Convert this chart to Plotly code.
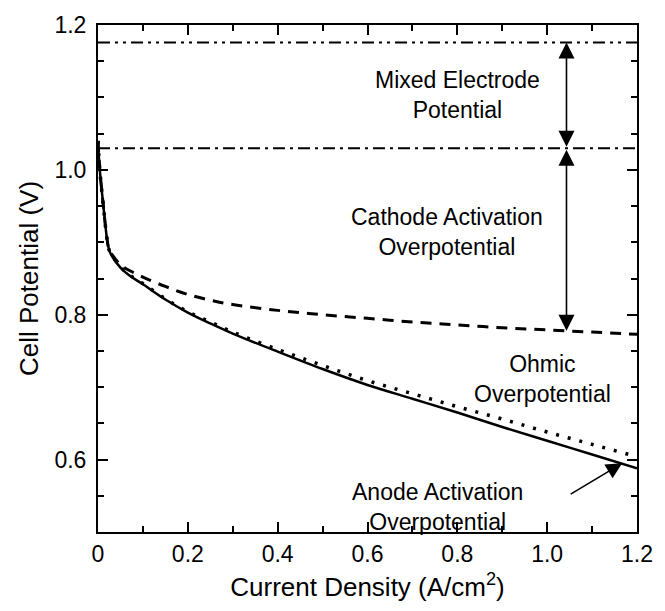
import plotly.graph_objects as go

# Current density (A/cm^2)
x_vals = [0, 0.004, 0.012, 0.02, 0.025, 0.03, 0.05, 0.07, 0.1, 0.15, 0.2, 0.25, 0.3,
          0.4, 0.5, 0.6, 0.7, 0.8, 0.9, 1.0, 1.1, 1.2]
# Full model (solid)
v_total = [1.04, 1.0, 0.95, 0.905, 0.889, 0.882, 0.865, 0.854, 0.842, 0.821, 0.803, 0.788, 0.774,
           0.749, 0.725, 0.703, 0.684, 0.665, 0.645, 0.626, 0.607, 0.588]
# Without anode activation (dotted)
v_no_anode = [1.04, 1.0, 0.95, 0.905, 0.889, 0.883, 0.866, 0.855, 0.843, 0.822, 0.804, 0.790, 0.776,
              0.752, 0.730, 0.709, 0.691, 0.673, 0.656, 0.638, 0.621, 0.604]
# Without ohmic (dashed)
v_no_ohmic = [1.04, 1.0, 0.95, 0.905, 0.889, 0.884, 0.869, 0.861, 0.852, 0.839, 0.828, 0.820, 0.814,
              0.806, 0.800, 0.795, 0.790, 0.786, 0.782, 0.779, 0.776, 0.773]

mixed_potential = 1.176
cathode_ref = 1.03

x_tickvals = [0, 0.2, 0.4, 0.6, 0.8, 1.0, 1.2]
x_ticktext = ["0", "0.2", "0.4", "0.6", "0.8", "1.0", "1.2"]
y_tickvals = [0.6, 0.8, 1.0, 1.2]
y_ticktext = ["0.6", "0.8", "1.0", "1.2"]

FONT = "Liberation Sans, Arial, sans-serif"

fig = go.Figure()
fig.add_trace(go.Scatter(x=[0, 1.2], y=[mixed_potential] * 2, mode="lines",
                         line=dict(color="black", width=2, dash="12px,5px,3px,5px,3px,5px")))
fig.add_trace(go.Scatter(x=[0, 1.2], y=[cathode_ref] * 2, mode="lines",
                         line=dict(color="black", width=2, dash="12px,5px,3px,5px")))
fig.add_trace(go.Scatter(x=x_vals, y=v_no_ohmic, mode="lines", line_shape="spline",
                         line=dict(color="black", width=3, dash="11px,8px")))
fig.add_trace(go.Scatter(x=x_vals, y=v_no_anode, mode="lines", line_shape="spline",
                         line=dict(color="black", width=3.5, dash="3px,9px")))
fig.add_trace(go.Scatter(x=x_vals, y=v_total, mode="lines", line_shape="spline",
                         line=dict(color="black", width=2.5)))

annots = [
    dict(x=0.80, y=1.104, text="Mixed Electrode<br>Potential"),
    dict(x=0.777, y=0.914, text="Cathode Activation<br>Overpotential"),
    dict(x=0.99, y=0.711, text="Ohmic<br>Overpotential"),
    dict(x=0.755, y=0.535, text="Anode Activation<br>Overpotential"),
]
for a in annots:
    fig.add_annotation(x=a["x"], y=a["y"], text=a["text"], showarrow=False,
                       font=dict(family=FONT, size=23, color="black"), xref="x", yref="y")

arrows = [
    (1.043, mixed_potential, 1.043, cathode_ref, "end+start"),
    (1.043, 0.778, 1.043, cathode_ref, "end+start"),
    (1.167, 0.595, 1.049, 0.551, "end"),
]
for x1, y1, x0, y0, side in arrows:
    fig.add_annotation(x=x1, y=y1, ax=x0, ay=y0, xref="x", yref="y", axref="x", ayref="y",
                       text="", showarrow=True, arrowhead=2, arrowsize=2, arrowwidth=1.6,
                       arrowcolor="black", arrowside=side, standoff=0, startstandoff=0)

axis_common = dict(showline=True, linecolor="black", linewidth=2, mirror="allticks",
                   ticks="inside", ticklen=10, tickwidth=2, tickcolor="black",
                   showgrid=False, zeroline=False,
                   tickfont=dict(family=FONT, size=23, color="black"))

fig.update_xaxes(range=[0, 1.2], tickvals=x_tickvals, ticktext=x_ticktext,
                 minor=dict(dtick=0.1, ticklen=6, tickwidth=2, tickcolor="black", ticks="inside"),
                 title=dict(text="Current Density (A/cm<sup>2</sup>)", standoff=12,
                            font=dict(family=FONT, size=26, color="black")),
                 **axis_common)
fig.update_yaxes(range=[0.5, 1.2], tickvals=y_tickvals, ticktext=y_ticktext,
                 ticklabelstandoff=5,
                 minor=dict(dtick=0.05, ticklen=6, tickwidth=2, tickcolor="black", ticks="inside"),
                 title=dict(text="Cell Potential (V)", standoff=8,
                            font=dict(family=FONT, size=26, color="black")),
                 **axis_common)

fig.update_layout(width=665, height=611, showlegend=False,
                  plot_bgcolor="white", paper_bgcolor="white",
                  margin=dict(l=98, r=20, t=25, b=79))

fig.write_html("out.html")
